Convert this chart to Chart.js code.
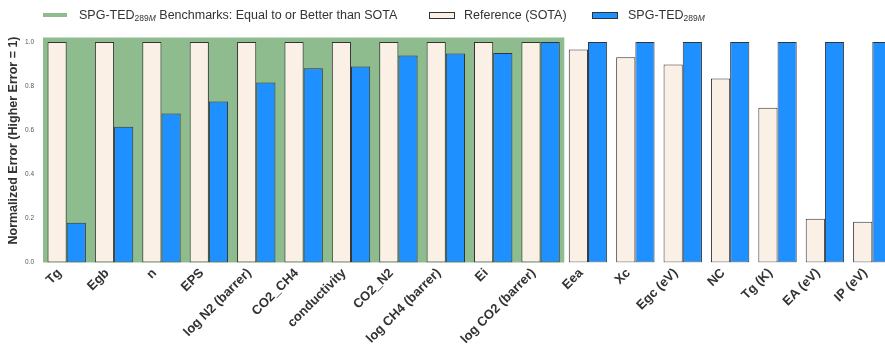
<!DOCTYPE html>
<html>
<head>
<meta charset="utf-8">
<script src="https://cdn.jsdelivr.net/npm/chart.js@4/dist/chart.umd.min.js"></script>
<style>
  html, body { margin: 0; padding: 0; background: #fff; overflow: hidden; width: 885px; height: 346px; }
  #wrap { position: relative; width: 897px; height: 346px; }
  #legend { position: absolute; left: 0; top: 0; width: 885px; height: 30px;
            font-family: "Liberation Sans", Arial, sans-serif; font-size: 12.5px; color: #333; z-index: 2; }
  .txt { position: absolute; top: 8px; line-height: 14px; white-space: nowrap; }
  .sw { position: absolute; box-sizing: border-box; }
  .sub { font-size: 8.5px; position: relative; top: 1.5px; }
  canvas { position: absolute; left: 0; top: 0; }
</style>
</head>
<body>
<div id="wrap">
  <div id="legend">
    <div class="sw" style="left:43px;top:12.5px;width:24px;height:4.5px;background:#8fbc8f;"></div>
    <div class="txt" style="left:79px;">SPG-TED<span class="sub">289<i>M</i></span> Benchmarks: Equal to or Better than SOTA</div>
    <div class="sw" style="left:429px;top:12px;width:26px;height:7px;background:#faf0e6;border:1px solid #333;"></div>
    <div class="txt" style="left:464px;">Reference (SOTA)</div>
    <div class="sw" style="left:592px;top:12px;width:26px;height:7px;background:#1e90ff;border:1px solid #333;"></div>
    <div class="txt" style="left:628px;">SPG-TED<span class="sub">289<i>M</i></span></div>
  </div>
  <canvas id="chart" width="897" height="346"></canvas>
</div>
<script>
// Property names along the x axis
const categories = [
  'Tg', 'Egb', 'n', 'EPS', 'log N2 (barrer)', 'CO2_CH4', 'conductivity', 'CO2_N2',
  'log CH4 (barrer)', 'Ei', 'log CO2 (barrer)', 'Eea', 'Xc', 'Egc (eV)', 'NC',
  'Tg (K)', 'EA (eV)', 'IP (eV)'
];

// Normalized errors (the larger error of each pair is 1)
const referenceSota = [1, 1, 1, 1, 1, 1, 1, 1, 1, 1, 1, 0.966, 0.931, 0.898, 0.834, 0.701, 0.198, 0.185];
const spgTed289M    = [0.18, 0.615, 0.675, 0.73, 0.816, 0.881, 0.889, 0.938, 0.947, 0.95, 1, 1, 1, 1, 1, 1, 1, 1];

// Y axis tick values
const yTicks = [0, 0.2, 0.4, 0.6, 0.8, 1.0];

const yTitle = 'Normalized Error (Higher Error = 1)';

// Categories where SPG-TED matches or beats the reference
const benchmarkWins = categories.map((c, i) => spgTed289M[i] <= referenceSota[i]);

const FONT = '"Liberation Sans", Arial, sans-serif';

// Shaded band behind the benchmark categories
const benchmarkBand = {
  id: 'benchmarkBand',
  beforeDatasetsDraw(chart) {
    const { ctx, chartArea, scales: { x } } = chart;
    const catW = (x.right - x.left) / categories.length;
    ctx.save();
    ctx.fillStyle = '#8fbc8f';
    let i = 0;
    while (i < categories.length) {
      if (!benchmarkWins[i]) { i++; continue; }
      let j = i;
      while (j + 1 < categories.length && benchmarkWins[j + 1]) j++;
      const x0 = x.getPixelForValue(i) - catW / 2;
      const x1 = x.getPixelForValue(j) + catW / 2;
      ctx.fillRect(x0, chartArea.top, x1 - x0, chartArea.bottom - chartArea.top);
      i = j + 1;
    }
    ctx.restore();
  }
};

// Vertical axis title
const yAxisTitle = {
  id: 'yAxisTitle',
  afterDraw(chart) {
    const { ctx } = chart;
    ctx.save();
    ctx.translate(14, 140.5);
    ctx.rotate(-Math.PI / 2);
    ctx.font = 'bold 12.5px ' + FONT;
    ctx.fillStyle = '#333';
    ctx.textAlign = 'center';
    ctx.textBaseline = 'middle';
    ctx.fillText(yTitle, 0, 0);
    ctx.restore();
  }
};

new Chart(document.getElementById('chart'), {
  type: 'bar',
  data: {
    labels: categories,
    datasets: [
      {
        label: 'Reference (SOTA)',
        data: referenceSota,
        backgroundColor: '#faf0e6',
        borderColor: '#333',
        borderWidth: 1,
        borderSkipped: false
      },
      {
        label: 'SPG-TED289M',
        data: spgTed289M,
        backgroundColor: '#1e90ff',
        borderColor: '#333',
        borderWidth: 1,
        borderSkipped: false
      }
    ]
  },
  options: {
    responsive: false,
    animation: false,
    devicePixelRatio: 1,
    layout: { padding: { top: 37.5, right: 1, left: 0, bottom: 0 } },
    datasets: { bar: { categoryPercentage: 0.81, barPercentage: 1.0 } },
    plugins: { legend: { display: false }, tooltip: { enabled: false } },
    scales: {
      x: {
        grid: { display: false, drawTicks: false },
        border: { display: false },
        ticks: {
          autoSkip: false,
          minRotation: 45,
          maxRotation: 45,
          padding: 3,
          labelOffset: -7,
          color: '#333',
          font: { family: FONT, size: 13, weight: 'bold' }
        },
        afterFit(scale) { scale.height = 346 - 262.5; }
      },
      y: {
        min: 0,
        max: 1.02,
        grid: { display: false, drawTicks: false },
        border: { display: false },
        afterBuildTicks(scale) { scale.ticks = yTicks.map(v => ({ value: v })); },
        ticks: {
          padding: 9,
          color: '#555',
          font: { family: FONT, size: 6.5 },
          callback: v => Number(v).toFixed(1)
        },
        afterFit(scale) { scale.width = 43; }
      }
    }
  },
  plugins: [benchmarkBand, yAxisTitle]
});
</script>
</body>
</html>
